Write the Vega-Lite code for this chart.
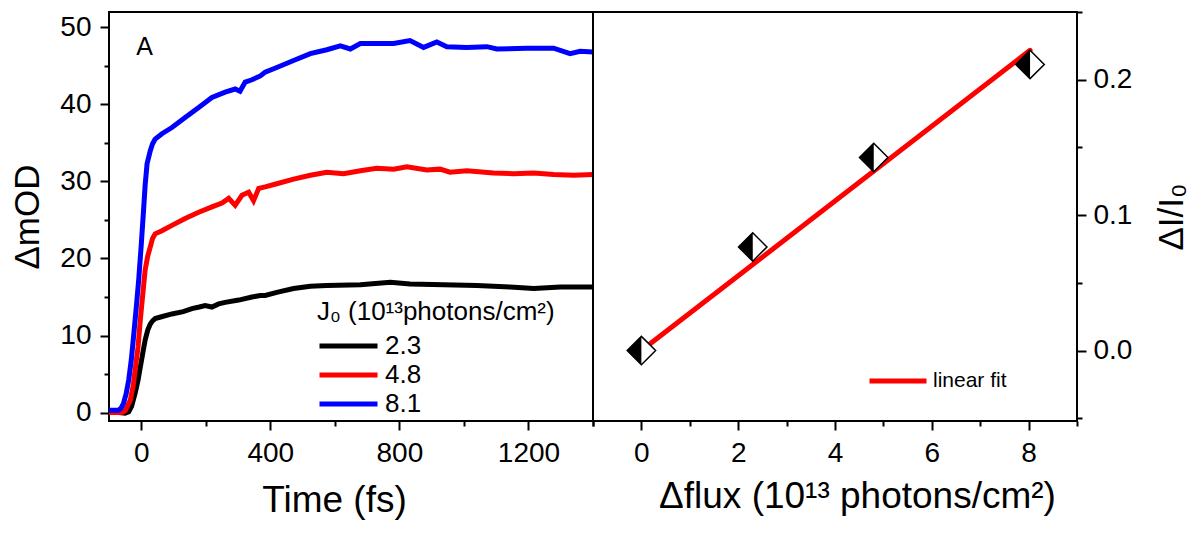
{
  "$schema": "https://vega.github.io/schema/vega-lite/v6.json",
  "padding": {"left": 9, "top": 10, "right": 5, "bottom": 5},
  "background": "white",
  "bounds": "flush",
  "config": {
    "font": "Liberation Sans",
    "view": {"stroke": "black", "strokeWidth": 2},
    "axis": {
      "domain": false, "grid": false,
      "labelFontSize": 28, "labelColor": "black", "labelPadding": 9,
      "titleFontSize": 35, "titleFontWeight": "normal", "titleColor": "black",
      "tickColor": "black", "tickWidth": 2
    },
    "legend": {"titleFontWeight": "normal", "labelColor": "black", "titleColor": "black", "titleLimit": 0, "labelLimit": 0}
  },
  "datasets": {
    "kinetics": [
      {"t": -100, "v": 0.0, "J": "2.3"}, {"t": -70, "v": 0.0, "J": "2.3"}, {"t": -50, "v": -0.1, "J": "2.3"},
      {"t": -39, "v": 0.1, "J": "2.3"}, {"t": -30, "v": 0.8, "J": "2.3"}, {"t": -19, "v": 2.5, "J": "2.3"},
      {"t": -10, "v": 4.2, "J": "2.3"}, {"t": -3, "v": 5.9, "J": "2.3"}, {"t": 5, "v": 7.8, "J": "2.3"},
      {"t": 12, "v": 9.4, "J": "2.3"}, {"t": 20, "v": 10.7, "J": "2.3"}, {"t": 28, "v": 11.5, "J": "2.3"},
      {"t": 35, "v": 11.9, "J": "2.3"}, {"t": 43, "v": 12.2, "J": "2.3"}, {"t": 60, "v": 12.4, "J": "2.3"},
      {"t": 95, "v": 12.8, "J": "2.3"}, {"t": 130, "v": 13.1, "J": "2.3"}, {"t": 157, "v": 13.5, "J": "2.3"},
      {"t": 180, "v": 13.7, "J": "2.3"}, {"t": 198, "v": 13.9, "J": "2.3"}, {"t": 219, "v": 13.7, "J": "2.3"},
      {"t": 240, "v": 14.1, "J": "2.3"}, {"t": 260, "v": 14.3, "J": "2.3"}, {"t": 302, "v": 14.6, "J": "2.3"},
      {"t": 343, "v": 15.0, "J": "2.3"}, {"t": 369, "v": 15.2, "J": "2.3"}, {"t": 384, "v": 15.2, "J": "2.3"},
      {"t": 420, "v": 15.6, "J": "2.3"}, {"t": 472, "v": 16.1, "J": "2.3"}, {"t": 524, "v": 16.4, "J": "2.3"},
      {"t": 575, "v": 16.5, "J": "2.3"}, {"t": 679, "v": 16.6, "J": "2.3"}, {"t": 772, "v": 16.9, "J": "2.3"},
      {"t": 833, "v": 16.7, "J": "2.3"}, {"t": 937, "v": 16.6, "J": "2.3"}, {"t": 1040, "v": 16.5, "J": "2.3"},
      {"t": 1143, "v": 16.3, "J": "2.3"}, {"t": 1216, "v": 16.1, "J": "2.3"}, {"t": 1299, "v": 16.3, "J": "2.3"},
      {"t": 1400, "v": 16.3, "J": "2.3"},
      {"t": -100, "v": 0.0, "J": "4.8"}, {"t": -60, "v": 0.0, "J": "4.8"}, {"t": -50, "v": 0.2, "J": "4.8"},
      {"t": -34, "v": 1.6, "J": "4.8"}, {"t": -25, "v": 3.5, "J": "4.8"}, {"t": -19, "v": 5.5, "J": "4.8"},
      {"t": -10, "v": 8.5, "J": "4.8"}, {"t": -3, "v": 12.0, "J": "4.8"}, {"t": 5, "v": 15.5, "J": "4.8"},
      {"t": 12, "v": 18.5, "J": "4.8"}, {"t": 20, "v": 20.3, "J": "4.8"}, {"t": 28, "v": 21.5, "J": "4.8"},
      {"t": 35, "v": 22.6, "J": "4.8"}, {"t": 43, "v": 23.2, "J": "4.8"}, {"t": 64, "v": 23.6, "J": "4.8"},
      {"t": 95, "v": 24.3, "J": "4.8"}, {"t": 136, "v": 25.2, "J": "4.8"}, {"t": 178, "v": 26.0, "J": "4.8"},
      {"t": 219, "v": 26.7, "J": "4.8"}, {"t": 250, "v": 27.2, "J": "4.8"}, {"t": 271, "v": 27.8, "J": "4.8"},
      {"t": 291, "v": 26.9, "J": "4.8"}, {"t": 312, "v": 28.2, "J": "4.8"}, {"t": 333, "v": 28.6, "J": "4.8"},
      {"t": 348, "v": 27.5, "J": "4.8"}, {"t": 364, "v": 29.1, "J": "4.8"}, {"t": 384, "v": 29.3, "J": "4.8"},
      {"t": 420, "v": 29.7, "J": "4.8"}, {"t": 472, "v": 30.3, "J": "4.8"}, {"t": 524, "v": 30.8, "J": "4.8"},
      {"t": 575, "v": 31.2, "J": "4.8"}, {"t": 627, "v": 31.0, "J": "4.8"}, {"t": 679, "v": 31.4, "J": "4.8"},
      {"t": 730, "v": 31.7, "J": "4.8"}, {"t": 782, "v": 31.6, "J": "4.8"}, {"t": 823, "v": 31.9, "J": "4.8"},
      {"t": 885, "v": 31.5, "J": "4.8"}, {"t": 926, "v": 31.6, "J": "4.8"}, {"t": 957, "v": 31.2, "J": "4.8"},
      {"t": 1009, "v": 31.4, "J": "4.8"}, {"t": 1092, "v": 31.1, "J": "4.8"}, {"t": 1154, "v": 31.0, "J": "4.8"},
      {"t": 1216, "v": 31.1, "J": "4.8"}, {"t": 1278, "v": 30.9, "J": "4.8"}, {"t": 1340, "v": 30.8, "J": "4.8"},
      {"t": 1400, "v": 30.9, "J": "4.8"},
      {"t": -100, "v": 0.3, "J": "8.1"}, {"t": -70, "v": 0.3, "J": "8.1"}, {"t": -62, "v": 0.6, "J": "8.1"},
      {"t": -55, "v": 1.2, "J": "8.1"}, {"t": -47, "v": 2.4, "J": "8.1"}, {"t": -39, "v": 4.2, "J": "8.1"},
      {"t": -31, "v": 6.8, "J": "8.1"}, {"t": -24, "v": 9.8, "J": "8.1"}, {"t": -16, "v": 13.4, "J": "8.1"},
      {"t": -8, "v": 17.2, "J": "8.1"}, {"t": 0, "v": 21.8, "J": "8.1"}, {"t": 7, "v": 26.2, "J": "8.1"},
      {"t": 12, "v": 29.5, "J": "8.1"}, {"t": 18, "v": 32.3, "J": "8.1"}, {"t": 28, "v": 34.0, "J": "8.1"},
      {"t": 35, "v": 34.9, "J": "8.1"}, {"t": 43, "v": 35.5, "J": "8.1"}, {"t": 64, "v": 36.2, "J": "8.1"},
      {"t": 95, "v": 37.0, "J": "8.1"}, {"t": 136, "v": 38.3, "J": "8.1"}, {"t": 178, "v": 39.6, "J": "8.1"},
      {"t": 219, "v": 40.9, "J": "8.1"}, {"t": 260, "v": 41.6, "J": "8.1"}, {"t": 291, "v": 42.0, "J": "8.1"},
      {"t": 306, "v": 41.7, "J": "8.1"}, {"t": 322, "v": 42.9, "J": "8.1"}, {"t": 343, "v": 43.2, "J": "8.1"},
      {"t": 369, "v": 43.7, "J": "8.1"}, {"t": 384, "v": 44.2, "J": "8.1"}, {"t": 420, "v": 44.8, "J": "8.1"},
      {"t": 472, "v": 45.7, "J": "8.1"}, {"t": 524, "v": 46.6, "J": "8.1"}, {"t": 575, "v": 47.1, "J": "8.1"},
      {"t": 617, "v": 47.6, "J": "8.1"}, {"t": 648, "v": 47.2, "J": "8.1"}, {"t": 679, "v": 47.9, "J": "8.1"},
      {"t": 730, "v": 47.9, "J": "8.1"}, {"t": 782, "v": 47.9, "J": "8.1"}, {"t": 833, "v": 48.3, "J": "8.1"},
      {"t": 875, "v": 47.4, "J": "8.1"}, {"t": 916, "v": 48.1, "J": "8.1"}, {"t": 947, "v": 47.5, "J": "8.1"},
      {"t": 1009, "v": 47.4, "J": "8.1"}, {"t": 1071, "v": 47.5, "J": "8.1"}, {"t": 1102, "v": 47.2, "J": "8.1"},
      {"t": 1195, "v": 47.3, "J": "8.1"}, {"t": 1278, "v": 47.3, "J": "8.1"}, {"t": 1329, "v": 46.6, "J": "8.1"},
      {"t": 1360, "v": 46.9, "J": "8.1"}, {"t": 1400, "v": 46.8, "J": "8.1"}
    ],
    "points": [
      {"flux": 0, "ratio": 0.0},
      {"flux": 2.3, "ratio": 0.0765},
      {"flux": 4.8, "ratio": 0.1426},
      {"flux": 8.03, "ratio": 0.2113}
    ],
    "fit": [
      {"flux": 0, "ratio": 0.0},
      {"flux": 8.03, "ratio": 0.2217}
    ]
  },
  "spacing": 0,
  "resolve": {"scale": {"color": "independent"}, "legend": {"color": "independent"}},
  "hconcat": [
    {
      "width": 484,
      "height": 409,
      "layer": [
        {
          "data": {"name": "kinetics"},
          "mark": {"type": "line", "strokeWidth": 5, "clip": true},
          "encoding": {
            "x": {
              "field": "t", "type": "quantitative",
              "scale": {"domain": [-100, 1400], "nice": false, "zero": false},
              "axis": {
                "title": "Time (fs)", "titlePadding": 15, "titleFontSize": 37, "titleX": 225,
                "values": [0, 200, 400, 600, 800, 1000, 1200, 1400],
                "labelExpr": "datum.value % 400 === 0 ? format(datum.value, 'd') : ''",
                "tickSize": {"condition": {"test": "datum.value % 400 === 0", "value": 9}, "value": 5}
              }
            },
            "y": {
              "field": "v", "type": "quantitative",
              "scale": {"domain": [-1.1, 52], "nice": false, "zero": false},
              "axis": {
                "title": "ΔmOD", "titlePadding": 14,
                "values": [0, 5, 10, 15, 20, 25, 30, 35, 40, 45, 50],
                "labelExpr": "datum.value % 10 === 0 ? datum.label : ''",
                "tickSize": {"condition": {"test": "datum.value % 10 === 0", "value": 9}, "value": 5}
              }
            },
            "color": {
              "field": "J", "type": "nominal",
              "scale": {"domain": ["2.3", "4.8", "8.1"], "range": ["black", "red", "blue"]},
              "legend": {
                "orient": "none", "legendX": 208, "legendY": 287,
                "title": "J₀ (10¹³photons/cm²)", "titleFontSize": 26, "titlePadding": 6,
                "labelFontSize": 26, "labelOffset": 38, "rowPadding": 1,
                "symbolType": "M-1,0L3.64,0", "symbolSize": 625, "symbolStrokeWidth": 5
              }
            }
          }
        },
        {
          "data": {"values": [{"label": "A"}]},
          "mark": {"type": "text", "fontSize": 25, "color": "black"},
          "encoding": {
            "x": {"datum": 10},
            "y": {"datum": 47.5},
            "text": {"field": "label"}
          }
        }
      ]
    },
    {
      "width": 484,
      "height": 409,
      "encoding": {
        "x": {
          "field": "flux", "type": "quantitative",
          "scale": {"domain": [-1, 9], "nice": false, "zero": false},
          "axis": {
            "title": "Δflux (10¹³ photons/cm²)", "titlePadding": 11, "titleFontSize": 37, "titleX": 264,
            "values": [-1, 0, 1, 2, 3, 4, 5, 6, 7, 8, 9],
            "labelExpr": "datum.value % 2 === 0 ? datum.label : ''",
            "tickSize": {"condition": {"test": "datum.value % 2 === 0", "value": 9}, "value": 5}
          }
        },
        "y": {
          "field": "ratio", "type": "quantitative",
          "scale": {"domain": [-0.052, 0.25], "nice": false, "zero": false},
          "axis": {
            "orient": "right", "title": "ΔI/I₀", "titleAngle": 270, "titlePadding": 58,
            "labelPadding": 7,
            "values": [-0.05, 0, 0.05, 0.1, 0.15, 0.2, 0.25],
            "labelExpr": "abs(datum.value * 10 - round(datum.value * 10)) < 0.01 ? format(datum.value, '.1f') : ''",
            "tickSize": {"condition": {"test": "abs(datum.value * 10 - round(datum.value * 10)) < 0.01", "value": 9}, "value": 5}
          }
        }
      },
      "layer": [
        {
          "data": {"name": "fit"},
          "mark": {"type": "line", "strokeWidth": 5, "strokeCap": "round"},
          "encoding": {
            "color": {
              "datum": "linear fit",
              "scale": {"range": ["red"]},
              "legend": {
                "orient": "none", "legendX": 274, "legendY": 354, "title": null,
                "labelFontSize": 21, "labelOffset": 36,
                "symbolType": "M-1,0L3.56,0", "symbolSize": 625, "symbolStrokeWidth": 5
              }
            }
          }
        },
        {
          "data": {"name": "points"},
          "mark": {"type": "point", "shape": "M0,-1L1,0L0,1L-1,0Z", "filled": true, "fill": "white", "stroke": "black", "strokeWidth": 1.5, "size": 810, "opacity": 1}
        },
        {
          "data": {"name": "points"},
          "mark": {"type": "point", "shape": "M0,-1L0,1L-1,0Z", "filled": true, "fill": "black", "strokeWidth": 0, "size": 810, "opacity": 1}
        },
        {
          "data": {"values": [{"label": "B"}]},
          "mark": {"type": "text", "fontSize": 25, "color": "black"},
          "encoding": {
            "x": {"datum": -0.22},
            "y": {"datum": 0.2237},
            "text": {"field": "label"}
          }
        }
      ]
    }
  ]
}
